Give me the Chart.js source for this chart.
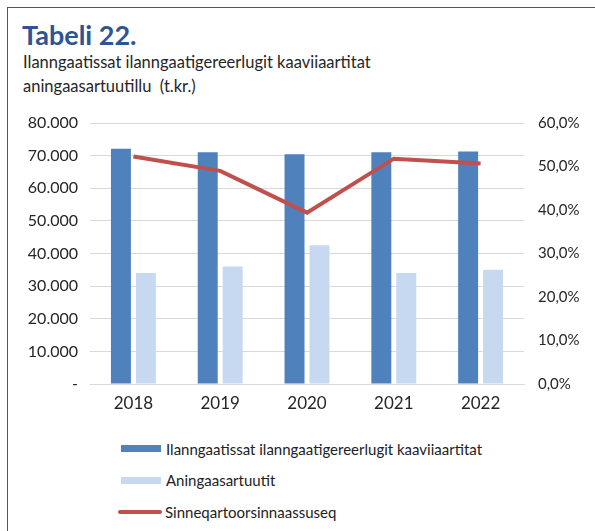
<!DOCTYPE html>
<html>
<head>
<meta charset="utf-8">
<script src="https://cdn.jsdelivr.net/npm/chart.js@4.4.1/dist/chart.umd.min.js"></script>
<style>
	body { margin: 0; width: 595px; height: 531px; background: #fff; overflow: hidden; position: relative; font-family: Lato, 'Open Sans', sans-serif; }
	.frame { position: absolute; left: 7px; top: 7px; right: 0; bottom: 0; border-left: 1.5px solid #555; border-top: 1.5px solid #555; }
	.title { position: absolute; left: 22px; top: 18px; font-size: 27px; font-weight: 700; color: #2e5591; }
	.subtitle { position: absolute; left: 23px; top: 50px; font-size: 16.5px; line-height: 24px; color: #262626; }
	.chartbox { position: absolute; left: 0; top: 100px; width: 595px; height: 325px; }
	#legend { position: absolute; left: 118px; top: 433px; font-size: 15px; color: #222; }
	#legend div { height: 31.5px; display: flex; align-items: center; }
	#legend span.sw { display: inline-block; width: 40px; margin-right: 5px; }
</style>
</head>
<body>
<div class="frame"></div>
<div class="title">Tabeli 22.</div>
<div class="subtitle">Ilanngaatissat ilanngaatigereerlugit kaaviiaartitat<br>aningaasartuutillu&nbsp; (t.kr.)</div>
<div class="chartbox"><canvas id="chart" width="595" height="325"></canvas></div>
<div id="legend"></div>
<script>
	const years = ['2018', '2019', '2020', '2021', '2022'];
	const ilanngaatissat = [72100, 71000, 70400, 71000, 71300];
	const aningaasartuutit = [34000, 36000, 42500, 34000, 35000];
	const sinneqartoorsinnaassuseq = [0.523, 0.49, 0.394, 0.518, 0.507];

	const data = {
		labels: years,
		datasets: [
			{
				type: 'line',
				label: 'Sinneqartoorsinnaassuseq',
				data: sinneqartoorsinnaassuseq,
				yAxisID: 'y1',
				borderColor: '#c0504d',
				backgroundColor: '#c0504d',
				borderWidth: 4,
				pointRadius: 0,
				tension: 0,
				order: 0,
			},
			{
				label: 'Ilanngaatissat ilanngaatigereerlugit kaaviiaartitat',
				data: ilanngaatissat,
				backgroundColor: '#4f81bd',
				categoryPercentage: 0.575,
				barPercentage: 0.8,
				order: 1,
			},
			{
				label: 'Aningaasartuutit',
				data: aningaasartuutit,
				backgroundColor: '#c6d9f1',
				categoryPercentage: 0.575,
				barPercentage: 0.8,
				order: 1,
			},
		],
	};

	const chart = new Chart(document.getElementById('chart'), {
		type: 'bar',
		data,
		options: {
			responsive: false,
			animation: false,
			layout: { padding: { top: 18, left: 0, right: 0, bottom: 0 } },
			plugins: { legend: { display: false }, tooltip: { enabled: false } },
			scales: {
				x: {
					grid: { display: false, drawTicks: false },
					border: { color: '#d9d9d9', width: 1 },
					ticks: { color: '#262626', font: { family: 'Lato', size: 17 }, padding: 9 },
					afterFit: (s) => { s.height = 41; },
				},
				y: {
					position: 'left',
					min: 0,
					max: 80000,
					ticks: {
						stepSize: 10000,
						color: '#262626',
						font: { family: 'Lato', size: 16 },
						padding: 12,
						callback: (v) => (v === 0 ? '-' : v.toLocaleString('de-DE')),
					},
					grid: { color: '#d9d9d9', drawTicks: false },
					border: { display: false },
					afterFit: (s) => { s.width = 90; },
				},
				y1: {
					position: 'right',
					min: 0,
					max: 0.6,
					ticks: {
						stepSize: 0.1,
						color: '#262626',
						font: { family: 'Lato', size: 15 },
						padding: 14,
						callback: (v) => (v * 100).toFixed(1).replace('.', ',') + '%',
					},
					grid: { display: false, drawTicks: false },
					border: { display: false },
					afterFit: (s) => { s.width = 71; },
				},
			},
		},
	});

	// legend in the same order as the reference: bars first, then line
	const legendOrder = [1, 2, 0];
	const legendEl = document.getElementById('legend');
	legendOrder.forEach((i) => {
		const ds = chart.data.datasets[i];
		const row = document.createElement('div');
		const sw = document.createElement('span');
		sw.className = 'sw';
		if (ds.type === 'line') {
			sw.style.height = '4px';
			sw.style.borderRadius = '2px';
			sw.style.width = '44px';
			sw.style.marginRight = '3px';
		} else {
			sw.style.height = '7px';
			sw.style.marginLeft = '3px';
		}
		sw.style.background = ds.backgroundColor;
		const txt = document.createElement('span');
		txt.textContent = ds.label;
		row.appendChild(sw);
		row.appendChild(txt);
		legendEl.appendChild(row);
	});
</script>
</body>
</html>
